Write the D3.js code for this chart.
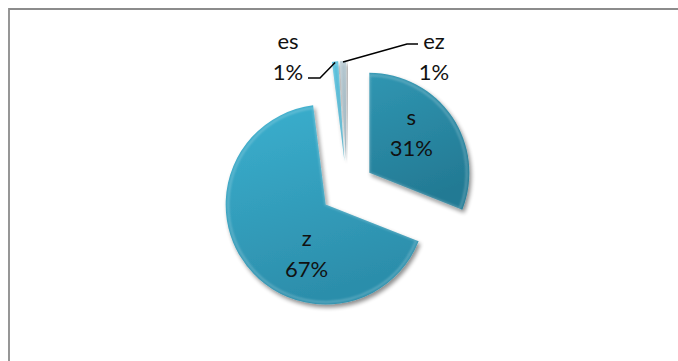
<!DOCTYPE html>
<html>
<head>
<meta charset="utf-8">
<script src="https://cdn.jsdelivr.net/npm/d3@7"></script>
<style>
  html, body { margin: 0; padding: 0; background: #ffffff; overflow: hidden; }
  svg { display: block; }
  text { font-family: Lato, "Open Sans", sans-serif; fill: #111; }
</style>
</head>
<body>
<svg id="chart" width="678" height="361"></svg>
<script>
// Share of each category
const categories = ["s", "z", "es", "ez"];
const values = [31, 67, 1, 1];
const percentLabels = ["31%", "67%", "1%", "1%"];

// Slice fills: lighter top stop, darker bottom stop
const topColors = ["#3096b2", "#3bb0cf", "#5cc3df", "#bccdd5"];
const bottomColors = ["#237a94", "#2c8eab", "#3aa5c3", "#8ba6b2"];

const width = 678, height = 361;
const cx = 347, cy = 188;
const radius = 100;
const explode = 27;

const svg = d3.select("#chart");

// Chart area frame (top and left edges fall inside the view)
svg.append("path")
  .attr("d", "M9,400 L9,9 L700,9")
  .attr("fill", "none")
  .attr("stroke", "#8c8c8c")
  .attr("stroke-width", 1.8);

const defs = svg.append("defs");

// Soft drop shadow under each slice
const shadow = defs.append("filter").attr("id", "shadow")
  .attr("x", "-20%").attr("y", "-20%").attr("width", "140%").attr("height", "140%");
shadow.append("feGaussianBlur").attr("in", "SourceAlpha").attr("stdDeviation", 2.2).attr("result", "blur");
shadow.append("feOffset").attr("in", "blur").attr("dx", 1.5).attr("dy", 3).attr("result", "off");
shadow.append("feComponentTransfer").attr("in", "off").attr("result", "shade")
  .append("feFuncA").attr("type", "linear").attr("slope", 0.45);
const merge = shadow.append("feMerge");
merge.append("feMergeNode").attr("in", "shade");
merge.append("feMergeNode").attr("in", "SourceGraphic");

// Blur for the bevel highlight
defs.append("filter").attr("id", "soft")
  .append("feGaussianBlur").attr("stdDeviation", 0.9);

categories.forEach((c, i) => {
  const g = defs.append("linearGradient").attr("id", "grad" + i)
    .attr("x1", 0).attr("y1", 0).attr("x2", 0.3).attr("y2", 1);
  g.append("stop").attr("offset", "0%").attr("stop-color", topColors[i]);
  g.append("stop").attr("offset", "100%").attr("stop-color", bottomColors[i]);
});

const data = categories.map((c, i) => ({ cat: c, value: values[i], label: percentLabels[i], i }));

const pie = d3.pie().value(d => d.value).sort(null).startAngle(0).endAngle(2 * Math.PI);
const arcs = pie(data);

const arc = d3.arc().innerRadius(0).outerRadius(radius);
const bevel = d3.arc().innerRadius(0).outerRadius(radius - 2.5);

const root = svg.append("g").attr("transform", `translate(${cx},${cy})`);

function offset(d) {
  const mid = (d.startAngle + d.endAngle) / 2;
  return [Math.sin(mid) * explode, -Math.cos(mid) * explode];
}

const slices = root.selectAll("g.slice").data(arcs).join("g")
  .attr("class", "slice")
  .attr("transform", d => { const o = offset(d); return `translate(${o[0]},${o[1]})`; });

slices.append("path")
  .attr("d", arc)
  .attr("fill", d => `url(#grad${d.data.i})`)
  .attr("filter", "url(#shadow)");

// Bevel rim: light inner edge
slices.append("path")
  .attr("d", bevel)
  .attr("fill", "none")
  .attr("stroke", "rgba(255,255,255,0.25)")
  .attr("stroke-width", 2)
  .attr("filter", "url(#soft)");

// Labels inside the two large slices
const inside = arcs.filter(d => d.data.value > 5);
const insideLabelPos = { s: [42, -56], z: [-19, 33] };
inside.forEach(d => {
  const o = offset(d);
  const p = insideLabelPos[d.data.cat];
  const t = root.append("text")
    .attr("text-anchor", "middle")
    .attr("font-size", 22);
  t.append("tspan")
    .attr("x", o[0] + p[0]).attr("y", o[1] + p[1])
    .attr("dominant-baseline", "central")
    .text(d.data.cat);
  t.append("tspan")
    .attr("x", o[0] + p[0]).attr("y", o[1] + p[1] + 31)
    .attr("dominant-baseline", "central")
    .text(d.data.label);
});

// Outside labels with leader lines for the thin slices
const outside = arcs.filter(d => d.data.value <= 5);
const outsideSpec = {
  es: { label: [-59, -148], elbow: [-27, -110], end: [-39, -110] },
  ez: { label: [87, -148], elbow: [60, -144], end: [71, -144] }
};
outside.forEach(d => {
  const spec = outsideSpec[d.data.cat];
  const mid = (d.startAngle + d.endAngle) / 2;
  const o = offset(d);
  const tip = [o[0] + Math.sin(mid) * (radius - 1), o[1] - Math.cos(mid) * (radius - 1)];
  root.append("polyline")
    .attr("points", [tip, spec.elbow, spec.end].map(p => p.join(",")).join(" "))
    .attr("fill", "none")
    .attr("stroke", "#000")
    .attr("stroke-width", 1.5);
  const t = root.append("text")
    .attr("text-anchor", "middle")
    .attr("font-size", 22);
  t.append("tspan")
    .attr("x", spec.label[0]).attr("y", spec.label[1])
    .attr("dominant-baseline", "central")
    .text(d.data.cat);
  t.append("tspan")
    .attr("x", spec.label[0]).attr("y", spec.label[1] + 31)
    .attr("dominant-baseline", "central")
    .text(d.data.label);
});
</script>
</body>
</html>
